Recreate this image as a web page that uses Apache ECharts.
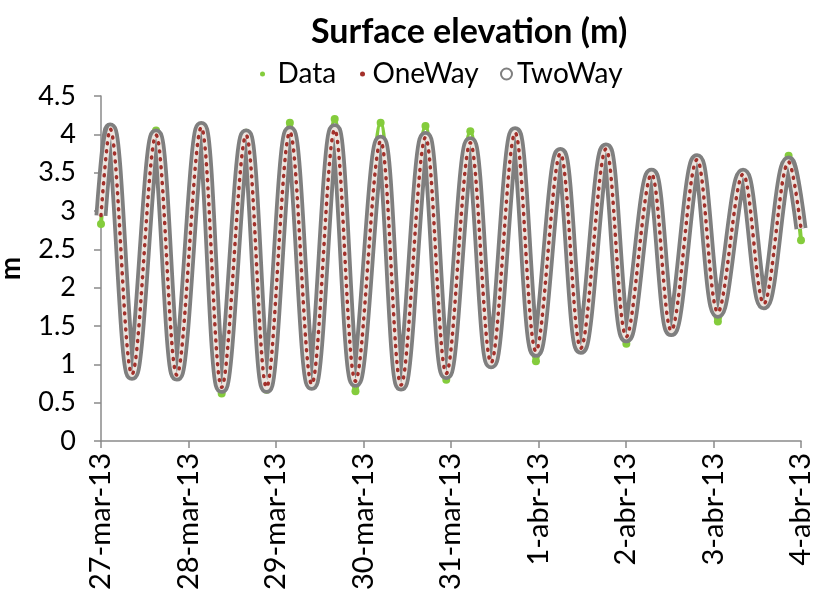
<!DOCTYPE html>
<html>
<head>
<meta charset="utf-8">
<script src="https://cdn.jsdelivr.net/npm/echarts@6/dist/echarts.min.js"></script>
<style>
  html, body { margin: 0; background: #fff; }
  #main { width: 814px; height: 594px; }
</style>
</head>
<body>
<div id="main"></div>
<script>
// hours after 27-mar-13 00:00: first sample, each high / low water, last sample
var hours = [0, 2.5, 8.5, 15.1, 20.8, 27.5, 33.1, 39.8, 45.4, 51.8, 57.8, 64.1, 69.8, 76.7, 82.3, 89.0, 94.7,
             101.3, 107.0, 113.6, 119.3, 126.0, 131.6, 138.5, 144.1, 151.0, 156.4, 163.5, 169.2, 176.1, 181.8, 188.6, 192];
var twoWay = [2.94, 4.07, 0.87, 3.99, 0.86, 4.09, 0.70, 3.99, 0.70, 4.03, 0.74, 4.06, 0.78, 3.91, 0.73, 3.96, 0.88,
              3.89, 1.02, 4.02, 1.17, 3.75, 1.21, 3.81, 1.36, 3.48, 1.44, 3.67, 1.68, 3.48, 1.79, 3.64, 2.77];
var oneWay = [2.94, 4.07, 0.87, 3.99, 0.86, 4.09, 0.70, 3.99, 0.70, 4.03, 0.74, 4.06, 0.78, 3.91, 0.73, 3.96, 0.88,
              3.89, 1.02, 4.02, 1.17, 3.75, 1.21, 3.81, 1.36, 3.48, 1.44, 3.67, 1.68, 3.48, 1.79, 3.64, 2.77];
var measured = [2.83, 4.07, 0.87, 4.05, 0.86, 4.09, 0.62, 4.02, 0.67, 4.15, 0.74, 4.20, 0.65, 4.15, 0.73, 4.11, 0.80,
                4.04, 1.02, 4.02, 1.04, 3.75, 1.21, 3.81, 1.27, 3.48, 1.44, 3.67, 1.56, 3.48, 1.79, 3.72, 2.62];
var dayLabels = ['27-mar-13', '28-mar-13', '29-mar-13', '30-mar-13', '31-mar-13',
                 '1-abr-13', '2-abr-13', '3-abr-13', '4-abr-13'];

function pairs(ys) {
    return hours.map(function (h, i) { return [h, ys[i]]; });
}

var FONT = 'Lato';
var GRAY = '#7f7f7f';
var RED = '#a3302a';
var GREEN = '#84cc3c';
var legendText = {fontFamily: FONT, fontSize: 28, color: '#000'};

var chart = echarts.init(document.getElementById('main'), null, {renderer: 'canvas'});

chart.setOption({
    animation: false,
    title: {
        text: 'Surface elevation (m)',
        left: 306,
        top: 10,
        textStyle: {fontFamily: FONT, fontWeight: 'bold', fontSize: 34, color: '#000'}
    },
    legend: [
        {data: [{name: 'Data', icon: 'circle'}], left: 255, top: 55, itemWidth: 20, itemHeight: 5,
         textStyle: legendText},
        {data: [{name: 'OneWay', icon: 'circle'}], left: 355, top: 55, itemWidth: 10, itemHeight: 5,
         textStyle: legendText},
        {data: [{name: 'TwoWay', icon: 'emptyCircle'}], left: 495, top: 55, itemWidth: 11, itemHeight: 11,
         textStyle: legendText}
    ],
    grid: {left: 101, right: 13, top: 96, bottom: 153, outerBoundsMode: 'none', containLabel: false},
    xAxis: {
        type: 'value',
        min: 0,
        max: 192,
        interval: 24,
        axisLine: {lineStyle: {color: '#8a8a8a', width: 1.5}},
        axisTick: {show: true, length: 7, lineStyle: {color: '#8a8a8a', width: 1.5}},
        splitLine: {show: false},
        axisLabel: {
            rotate: 90,
            margin: 12,
            fontFamily: FONT,
            fontSize: 29,
            color: '#000',
            formatter: function (v) { return dayLabels[Math.round(v / 24)]; }
        }
    },
    yAxis: {
        type: 'value',
        min: 0,
        max: 4.5,
        interval: 0.5,
        name: 'm',
        nameLocation: 'middle',
        nameRotate: 90,
        nameGap: 76,
        nameTextStyle: {fontFamily: FONT, fontWeight: 'bold', fontSize: 28, color: '#000'},
        axisLine: {show: true, lineStyle: {color: '#8a8a8a', width: 1.5}},
        axisTick: {show: true, length: 7, lineStyle: {color: '#8a8a8a', width: 1.5}},
        splitLine: {show: false},
        axisLabel: {margin: 25, fontFamily: FONT, fontSize: 27, color: '#000'}
    },
    series: [
        {
            name: 'Data',
            type: 'line',
            z: 1,
            data: pairs(measured),
            smooth: 0.35,
            symbol: 'circle',
            symbolSize: 8,
            itemStyle: {color: GREEN},
            lineStyle: {color: GREEN, width: 4}
        },
        {
            name: 'TwoWay',
            type: 'line',
            z: 2,
            data: pairs(twoWay),
            smooth: 0.35,
            showSymbol: false,
            itemStyle: {color: GRAY},
            lineStyle: {color: GRAY, width: 13}
        },
        {
            // light inside of the chained rings
            name: 'TwoWay',
            type: 'line',
            z: 3,
            data: pairs(twoWay),
            smooth: 0.35,
            showSymbol: false,
            itemStyle: {color: GRAY},
            lineStyle: {color: '#ece5df', width: 5.5}
        },
        {
            name: 'OneWay',
            type: 'line',
            z: 4,
            data: pairs(oneWay),
            smooth: 0.35,
            showSymbol: false,
            itemStyle: {color: RED},
            lineStyle: {color: RED, width: 3.5, type: [1, 7], cap: 'round'}
        }
    ]
});
</script>
</body>
</html>
